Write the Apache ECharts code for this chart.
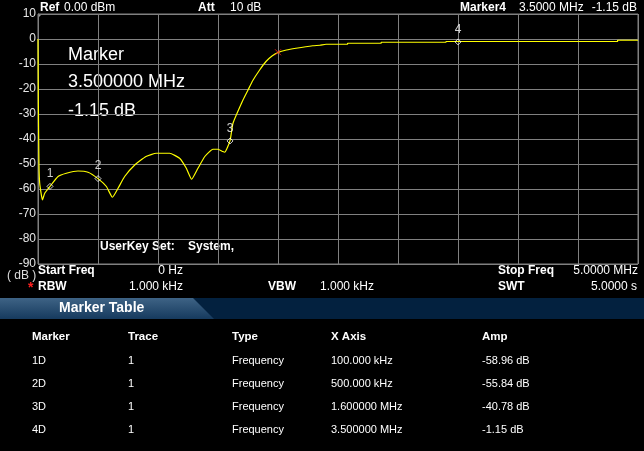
<!DOCTYPE html>
<html>
<head>
<meta charset="utf-8">
<script src="https://cdn.jsdelivr.net/npm/echarts@6/dist/echarts.min.js"></script>
<style>
html,body{margin:0;padding:0;background:#000;}
#c{width:644px;height:451px;}
</style>
</head>
<body>
<div id="c"></div>
<script>
// ---- data (frequency in MHz, amplitude in dB) ----
const traceFreq = [0, 0.003, 0.008, 0.014, 0.037, 0.056, 0.1, 0.167, 0.236, 0.333, 0.417, 0.5, 0.57, 0.62, 0.667, 0.722, 0.806, 0.9, 0.986, 1.097, 1.18, 1.236, 1.28, 1.333, 1.39, 1.458, 1.5, 1.54, 1.556, 1.6, 1.625, 1.708, 1.75, 1.79, 1.847, 1.9, 1.95, 2.0, 2.07, 2.15, 2.29, 2.35, 2.4, 2.58, 2.58, 2.86, 2.86, 3.4, 3.4, 4.83, 4.83, 5.0];
const traceAmp  = [0, -26, -50, -57.6, -64.4, -61.7, -58.96, -55, -53.7, -52.8, -53.3, -55.84, -59, -63.3, -59.7, -55, -50.4, -47, -45.7, -45.7, -47.7, -51.7, -56.1, -51.7, -47, -44.1, -44.1, -45, -45.3, -40.78, -33.7, -24.4, -20.4, -16.6, -12.4, -9.0, -6.8, -5.4, -4.4, -3.7, -2.7, -2.5, -2.1, -2.1, -1.7, -1.7, -1.3, -1.3, -1.0, -1.0, -0.5, -0.5];

const markerNames = ['1', '2', '3', '4'];
const markerFreq  = [0.1, 0.5, 1.6, 3.5];
const markerAmp   = [-58.96, -55.84, -40.78, -1.15];

const peakFreq = [2.0];
const peakAmp  = [-5.3];

const tableHeaders = ['Marker', 'Trace', 'Type', 'X Axis', 'Amp'];
const tableMarker = ['1D', '2D', '3D', '4D'];
const tableTrace  = ['1', '1', '1', '1'];
const tableType   = ['Frequency', 'Frequency', 'Frequency', 'Frequency'];
const tableXAxis  = ['100.000 kHz', '500.000 kHz', '1.600000 MHz', '3.500000 MHz'];
const tableAmp    = ['-58.96 dB', '-55.84 dB', '-40.78 dB', '-1.15 dB'];

const xMin = 0, xMax = 5, xStep = 0.5;
const yMin = -90, yMax = 10, yStep = 10;

// ---- rendering ----
const FONT = '"Liberation Sans", Arial, sans-serif';
const chart = echarts.init(document.getElementById('c'), null, {renderer: 'canvas'});

function txt(x, y, s, opt) {
  opt = opt || {};
  return {
    type: 'text', x: x, y: y, silent: true,
    style: {
      text: s, fill: opt.color || '#fff',
      font: (opt.bold ? 'bold ' : '') + (opt.size || 12) + 'px ' + FONT,
      textAlign: opt.align || 'left', textVerticalAlign: 'middle'
    }
  };
}

const graphics = [];
// header
graphics.push(txt(40, 8, 'Ref', {bold: true}));
graphics.push(txt(64, 8, '0.00 dBm'));
graphics.push(txt(198, 8, 'Att', {bold: true}));
graphics.push(txt(230, 8, '10 dB'));
graphics.push(txt(460, 8, 'Marker4', {bold: true}));
graphics.push(txt(519, 8, '3.5000 MHz'));
graphics.push(txt(637, 8, '-1.15 dB', {align: 'right'}));
// corner tick
graphics.push({type: 'polygon', silent: true, shape: {points: [[38, 14], [42, 14], [38, 18]]}, style: {fill: '#9a9a9a'}});
// marker overlay
graphics.push(txt(68, 55, 'Marker', {size: 18}));
graphics.push(txt(68, 82.5, markerFreq[3].toFixed(6) + ' MHz', {size: 18}));
graphics.push(txt(68, 111.5, markerAmp[3].toFixed(2) + ' dB', {size: 18}));
// userkey
graphics.push(txt(100, 247, 'UserKey Set:', {bold: true}));
graphics.push(txt(188, 247, 'System,', {bold: true}));
// footer
graphics.push(txt(7, 276, '( dB )', {color: '#ddd'}));
graphics.push(txt(38, 271, 'Start Freq', {bold: true}));
graphics.push(txt(183, 271, '0 Hz', {align: 'right'}));
graphics.push(txt(498, 271, 'Stop Freq', {bold: true}));
graphics.push(txt(638, 271, '5.0000 MHz', {align: 'right'}));
graphics.push(txt(28, 288, '*', {bold: true, color: '#ff2020', size: 14}));
graphics.push(txt(38, 287, 'RBW', {bold: true}));
graphics.push(txt(183, 287, '1.000 kHz', {align: 'right'}));
graphics.push(txt(268, 287, 'VBW', {bold: true}));
graphics.push(txt(320, 287, '1.000 kHz'));
graphics.push(txt(498, 287, 'SWT', {bold: true}));
graphics.push(txt(637, 287, '5.0000 s', {align: 'right'}));
// marker table band
graphics.push({type: 'rect', silent: true, shape: {x: 0, y: 298, width: 644, height: 21}, style: {fill: '#03213f'}});
graphics.push({type: 'polygon', silent: true, shape: {points: [[0, 298], [193, 298], [214, 319], [0, 319]]},
  style: {fill: new echarts.graphic.LinearGradient(0, 0, 0, 1, [{offset: 0, color: '#3e6385'}, {offset: 1, color: '#163a5e'}])}});
graphics.push(txt(59, 308.5, 'Marker Table', {bold: true, size: 14}));
// table
const colX = [32, 128, 232, 331, 482];
tableHeaders.forEach((h, i) => graphics.push(txt(colX[i], 337, h, {bold: true, size: 11.5})));
const cols = [tableMarker, tableTrace, tableType, tableXAxis, tableAmp];
for (let r = 0; r < tableMarker.length; r++) {
  cols.forEach((col, i) => graphics.push(txt(colX[i], 360.5 + r * 23, col[r], {size: 11})));
}

const option = {
  backgroundColor: '#000',
  animation: false,
  grid: {left: 38, right: 6, top: 14, bottom: 187, show: true, borderColor: '#808080', borderWidth: 1},
  xAxis: {
    type: 'value', min: xMin, max: xMax, interval: xStep,
    axisLine: {show: true, lineStyle: {color: '#808080'}},
    axisTick: {show: false}, axisLabel: {show: false},
    splitLine: {show: true, lineStyle: {color: '#808080', width: 1}}
  },
  yAxis: {
    type: 'value', min: yMin, max: yMax, interval: yStep,
    axisLine: {show: true, lineStyle: {color: '#808080'}},
    axisTick: {show: false},
    axisLabel: {color: '#e6e6e6', fontSize: 12, fontFamily: FONT, margin: 2},
    splitLine: {show: true, lineStyle: {color: '#808080', width: 1}}
  },
  series: [
    {
      type: 'line', data: traceFreq.map((f, i) => [f, traceAmp[i]]),
      showSymbol: false, smooth: 0.15,
      lineStyle: {color: '#ffff00', width: 1.2}, z: 3
    },
    {
      type: 'scatter', data: markerFreq.map((f, i) => ({value: [f, markerAmp[i]], name: markerNames[i]})),
      symbol: 'diamond', symbolSize: 6,
      itemStyle: {color: 'rgba(0,0,0,0)', borderColor: '#ffffff', borderWidth: 1},
      label: {show: true, position: 'top', distance: 3, formatter: p => p.name, color: '#ffffff', fontSize: 12, fontFamily: FONT},
      z: 5
    },
    {
      type: 'scatter', data: peakFreq.map((f, i) => [f, peakAmp[i]]),
      symbol: 'path://M0,0L10,10M10,0L0,10', symbolSize: 6,
      itemStyle: {color: 'rgba(0,0,0,0)', borderColor: '#ff2020', borderWidth: 1},
      z: 6
    }
  ],
  graphic: graphics
};
chart.setOption(option);
</script>
</body>
</html>
